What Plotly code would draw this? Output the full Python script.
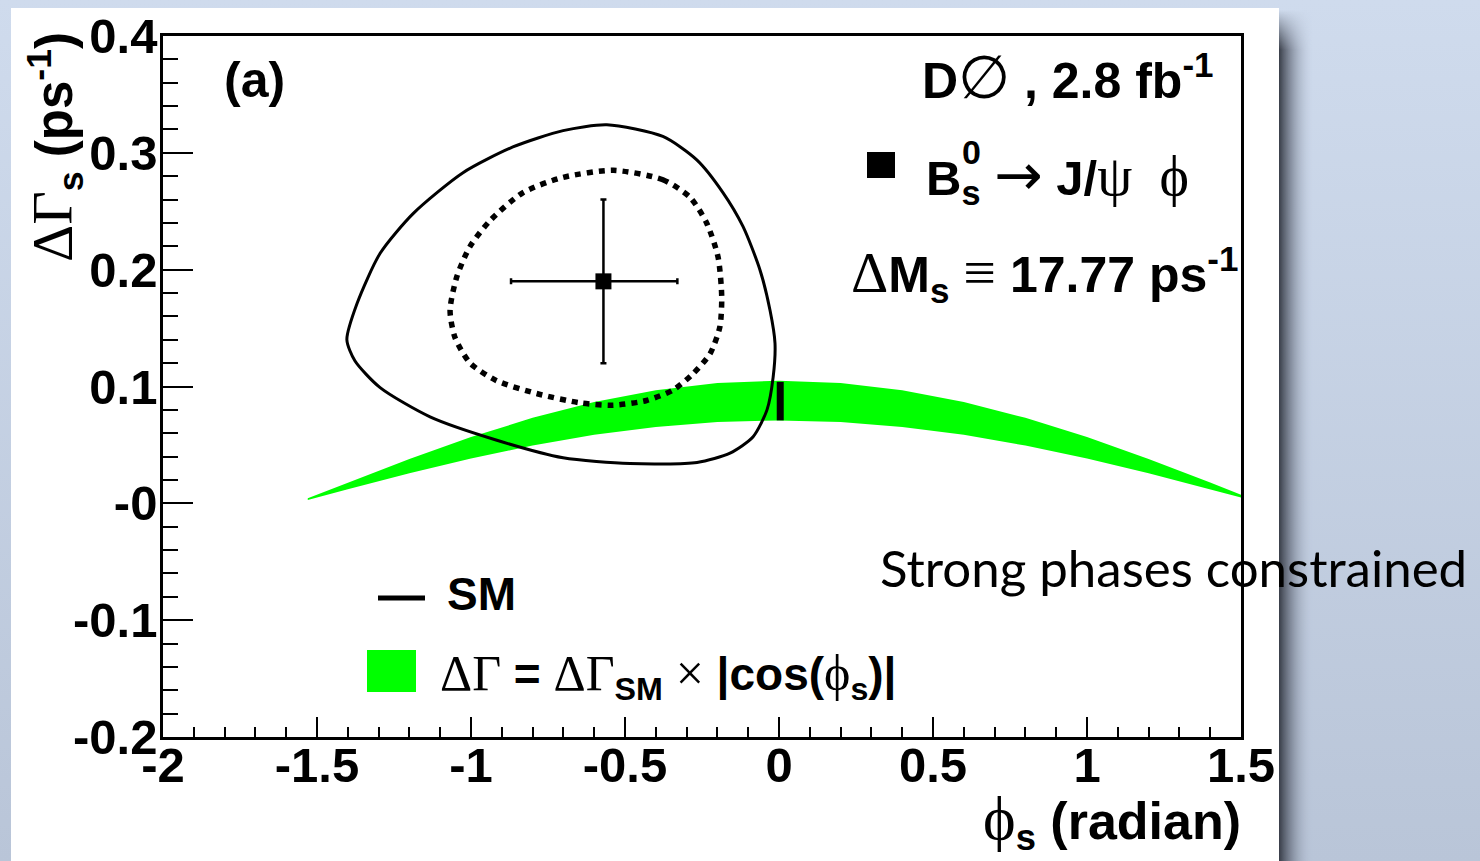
import base64
import plotly.graph_objects as go

# ---------------- data ----------------
# 95% CL contour (solid)
CL95_PHI = [-0.559, -0.377, -0.267, -0.182, -0.117, -0.062, -0.029, -0.013, -0.019,
            -0.039, -0.084, -0.159, -0.266, -0.484, -0.701, -0.916, -1.133, -1.295,
            -1.377, -1.403, -1.370, -1.295, -1.188, -1.026, -0.864, -0.701, -0.559]
CL95_DG = [0.324, 0.314, 0.294, 0.266, 0.237, 0.200, 0.165, 0.137, 0.108,
           0.080, 0.057, 0.043, 0.035, 0.034, 0.039, 0.054, 0.074, 0.099,
           0.122, 0.140, 0.171, 0.214, 0.248, 0.283, 0.305, 0.319, 0.324]

# 68% CL contour (dotted)
CL68_PHI = [-0.538, -0.377, -0.289, -0.235, -0.198, -0.186, -0.192, -0.224, -0.279,
            -0.344, -0.430, -0.539, -0.646, -0.787, -0.917, -1.003, -1.052, -1.068,
            -1.046, -1.003, -0.938, -0.831, -0.701, -0.538]
CL68_DG = [0.285, 0.277, 0.262, 0.240, 0.211, 0.177, 0.151, 0.128, 0.111,
           0.097, 0.088, 0.084, 0.086, 0.094, 0.105, 0.120, 0.142, 0.165,
           0.194, 0.220, 0.242, 0.266, 0.279, 0.285]

# best fit point with asymmetric phi errors
FIT_PHI = [-0.57]
FIT_DG = [0.19]
FIT_PHI_ERR_PLUS = [0.24]
FIT_PHI_ERR_MINUS = [0.30]
FIT_DG_ERR = [0.07]

# SM band: dGamma = dGamma_SM x |cos(phi_s)|, upper and lower edges
BAND_PHI = [-1.53, -1.4, -1.2, -1.0, -0.8, -0.6, -0.4, -0.2, 0.0,
            0.2, 0.4, 0.6, 0.8, 1.0, 1.2, 1.4, 1.5]
BAND_UP = [0.0043, 0.0178, 0.0380, 0.0567, 0.0732, 0.0867, 0.0967, 0.1029, 0.1050,
           0.1029, 0.0967, 0.0867, 0.0732, 0.0567, 0.0380, 0.0178, 0.0074]
BAND_LO = [0.0029, 0.0121, 0.0257, 0.0384, 0.0495, 0.0586, 0.0654, 0.0696, 0.0710,
           0.0696, 0.0654, 0.0586, 0.0495, 0.0384, 0.0257, 0.0121, 0.0050]

# SM prediction
SM_PHI = [0.004, 0.004]
SM_DG = [0.071, 0.104]

# axis ticks
Y_TICKS = [-0.2, -0.1, 0.0, 0.1, 0.2, 0.3, 0.4]
Y_TICK_TEXT = ["-0.2", "-0.1", "-0", "0.1", "0.2", "0.3", "0.4"]
X_TICKS = [-2, -1.5, -1, -0.5, 0, 0.5, 1, 1.5]
X_TICK_TEXT = ["-2", "-1.5", "-1", "-0.5", "0", "0.5", "1", "1.5"]

# ---------------- page geometry ----------------
W, H = 1480, 861
PLOT_L, PLOT_R, PLOT_T, PLOT_B = 163, 1241, 36, 737


def px(x):
    return x / W


def py(y):
    return 1 - y / H


SANS = "Liberation Sans"
SERIF = "Liberation Serif"
END = "</span>"
PHI = "ϕ"


def greek(s, size):
    return (f'<span style="font-family:{SERIF};font-weight:normal;'
            f'font-size:{size}px">{s}{END}')


ARROW = ('<span style="font-family:DejaVu Sans;font-weight:normal;'
         'font-size:58px">→</span>')

# slide background: blue gradient, white panel, drop shadow on the right
svg = f"""<svg xmlns="http://www.w3.org/2000/svg" width="{W}" height="{H}" preserveAspectRatio="none">
<defs>
<linearGradient id="bg" x1="0" y1="0" x2="0" y2="1">
<stop offset="0" stop-color="#cfdbed"/><stop offset="1" stop-color="#b9c5d8"/>
</linearGradient>
<linearGradient id="sh" x1="0" y1="0" x2="1" y2="0">
<stop offset="0" stop-color="#30353f" stop-opacity="0.95"/>
<stop offset="0.35" stop-color="#5a6170" stop-opacity="0.6"/>
<stop offset="1" stop-color="#b9c5d8" stop-opacity="0"/>
</linearGradient>
<linearGradient id="shv" x1="0" y1="0" x2="0" y2="1">
<stop offset="0" stop-color="white" stop-opacity="0"/>
<stop offset="1" stop-color="white" stop-opacity="1"/>
</linearGradient>
<mask id="m"><rect x="1279" y="10" width="40" height="40" fill="url(#shv)"/>
<rect x="1279" y="50" width="40" height="{H}" fill="white"/></mask>
</defs>
<rect width="{W}" height="{H}" fill="url(#bg)"/>
<rect x="1279" y="10" width="34" height="{H}" fill="url(#sh)" mask="url(#m)"/>
<rect x="11" y="8" width="1268" height="{H}" fill="white"/>
</svg>"""
bg_uri = "data:image/svg+xml;base64," + base64.b64encode(svg.encode()).decode()

fig = go.Figure()

# SM band
fig.add_trace(go.Scatter(
    x=BAND_PHI + BAND_PHI[::-1], y=BAND_UP + BAND_LO[::-1],
    mode="lines", fill="toself", fillcolor="#00ff00",
    line=dict(width=0, color="#00ff00"), hoverinfo="skip"))

# SM point
fig.add_trace(go.Scatter(x=SM_PHI, y=SM_DG, mode="lines",
                         line=dict(color="black", width=7), hoverinfo="skip"))

# 95% CL contour
fig.add_trace(go.Scatter(x=CL95_PHI, y=CL95_DG, mode="lines",
                         line=dict(color="black", width=3, shape="spline", smoothing=0.7)))

# 68% CL contour
fig.add_trace(go.Scatter(x=CL68_PHI, y=CL68_DG, mode="lines",
                         line=dict(color="black", width=5.5, dash="6px,6px",
                                   shape="spline", smoothing=0.7)))

# best fit with errors
fig.add_trace(go.Scatter(
    x=FIT_PHI, y=FIT_DG, mode="markers",
    marker=dict(symbol="square", size=16, color="black"),
    error_x=dict(type="data", symmetric=False, array=FIT_PHI_ERR_PLUS,
                 arrayminus=FIT_PHI_ERR_MINUS, color="black", thickness=2.5, width=3),
    error_y=dict(type="data", array=FIT_DG_ERR, color="black", thickness=2.5, width=3)))

axis_common = dict(
    showgrid=False, zeroline=False, showline=True, linecolor="black", linewidth=2.5,
    mirror=True, ticks="inside", tickcolor="black", tickwidth=2,
    tickfont=dict(family=SANS, size=49, color="black", weight="bold"),
    tickmode="array", automargin=False,
)

fig.update_xaxes(
    **axis_common, range=[-2, 1.5], tickvals=X_TICKS, ticktext=X_TICK_TEXT,
    ticklen=20, ticklabelstandoff=-17,
    minor=dict(ticks="inside", ticklen=10, tickwidth=2, tickcolor="black",
               tickmode="linear", tick0=0, dtick=0.1),
    domain=[px(PLOT_L), px(PLOT_R)],
)
fig.update_yaxes(
    **axis_common, range=[-0.2, 0.4], tickvals=Y_TICKS, ticktext=Y_TICK_TEXT,
    ticklen=30, ticklabelstandoff=-7,
    minor=dict(ticks="inside", ticklen=15, tickwidth=2, tickcolor="black",
               tickmode="linear", tick0=0, dtick=0.02),
    domain=[py(PLOT_B), py(PLOT_T)],
)

annotations = [
    # axis titles
    dict(text=f"{greek('ΔΓ', 58)}<sub>s</sub> (ps<sup>-1</sup>)", x=px(55), y=py(30),
         xanchor="center", yanchor="top", textangle=-90, font=dict(size=51)),
    dict(text=f"{greek(PHI, 62)}<sub>s</sub> (radian)", x=px(1243), y=py(782),
         xanchor="right", yanchor="top", font=dict(size=52)),
    # panel label and info
    dict(text="(a)", x=px(222), y=py(80), xanchor="left", yanchor="middle",
         font=dict(size=50)),
    dict(text=f"D{greek('∅', 60)} , 2.8 fb<sup>-1</sup>", x=px(1216), y=py(78),
         xanchor="right", yanchor="middle", font=dict(size=50)),
    dict(text=f"B<sub>s</sub> {ARROW} J/{greek('ψ', 56)}  {greek(PHI, 56)}",
         x=px(924), y=py(176), xanchor="left", yanchor="middle", font=dict(size=49)),
    dict(text="0", x=px(972), y=py(152), xanchor="center", yanchor="middle",
         font=dict(size=34)),
    dict(text=f"{greek('Δ', 58)}M<sub>s</sub> {greek('≡', 58)} 17.77 ps<sup>-1</sup>",
         x=px(1240), y=py(274), xanchor="right", yanchor="middle", font=dict(size=50)),
    # legend
    dict(text="SM", x=px(445), y=py(594), xanchor="left", yanchor="middle",
         font=dict(size=46)),
    dict(text=(f"{greek('ΔΓ', 50)} = {greek('ΔΓ', 50)}<sub>SM</sub> {greek('×', 50)} "
               f"|cos({greek(PHI, 50)}<sub>s</sub>)|"),
         x=px(438), y=py(676), xanchor="left", yanchor="middle", font=dict(size=46)),
    # slide text
    dict(text="Strong phases constrained", x=px(878), y=py(567), xanchor="left",
         yanchor="middle", font=dict(family="Lato", size=51, weight="normal")),
]
for a in annotations:
    a.update(xref="paper", yref="paper", showarrow=False)
    a["font"] = dict(dict(family=SANS, color="black", weight="bold"), **a["font"])

shapes = [
    dict(type="line", x0=px(378), x1=px(425), y0=py(598), y1=py(598),
         line=dict(color="black", width=5)),
    dict(type="rect", x0=px(367), x1=px(416), y0=py(692), y1=py(650),
         fillcolor="#00ff00", line=dict(width=0)),
    dict(type="rect", x0=px(867), x1=px(895), y0=py(178), y1=py(152),
         fillcolor="black", line=dict(width=0)),
]
for s in shapes:
    s.update(xref="paper", yref="paper")

fig.update_layout(
    width=W, height=H, autosize=False,
    margin=dict(l=0, r=0, t=0, b=0, pad=0, autoexpand=False),
    paper_bgcolor="#c5d1e3", plot_bgcolor="white",
    showlegend=False,
    annotations=annotations, shapes=shapes,
    images=[dict(source=bg_uri, xref="paper", yref="paper", x=0, y=1, sizex=1, sizey=1,
                 xanchor="left", yanchor="top", sizing="stretch", layer="below")],
)

fig.write_html("out.html")
